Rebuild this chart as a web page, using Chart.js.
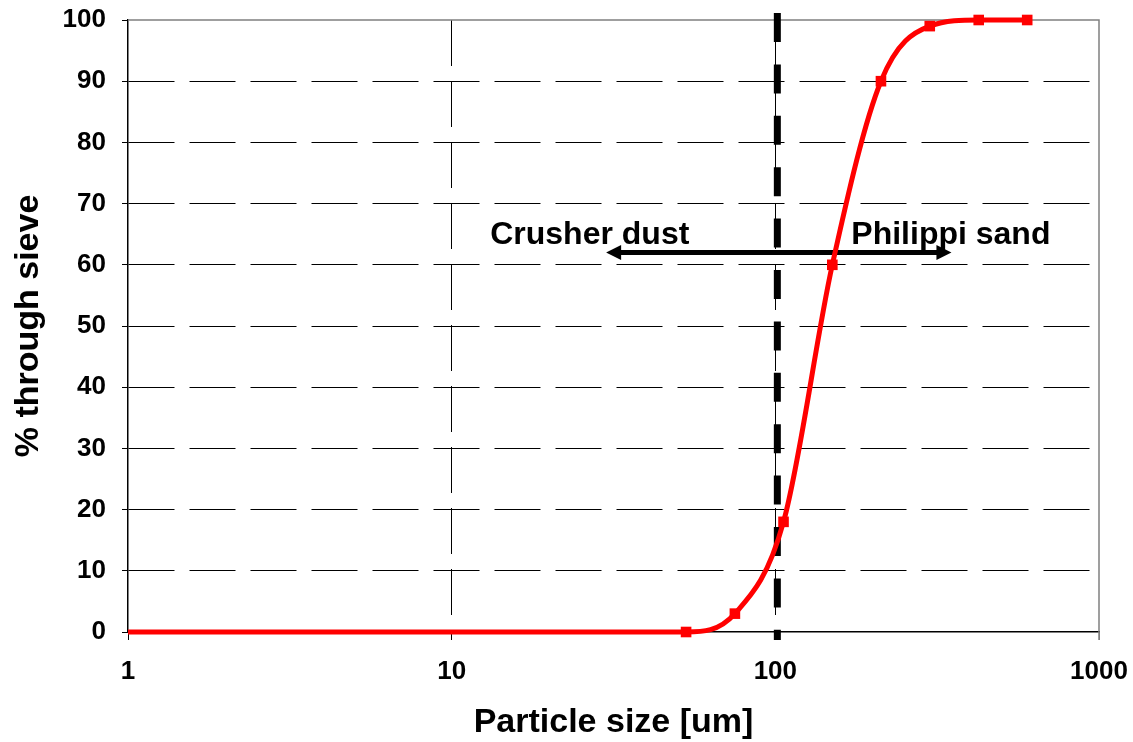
<!DOCTYPE html>
<html>
<head>
<meta charset="utf-8">
<script src="https://cdn.jsdelivr.net/npm/chart.js@4.4.0/dist/chart.umd.min.js"></script>
<style>
  html, body { margin: 0; padding: 0; background: #fff; }
  #wrap { width: 1133px; height: 742px; }
</style>
</head>
<body>
<div id="wrap"><canvas id="sieve-chart" width="1133" height="742"></canvas></div>
<script>
// Sieve sizes (um) and cumulative % passing
const sieveSizes = [1, 53, 75, 106, 150, 212, 300, 425, 600];
const percentPassing = [0, 0, 3, 18, 60, 90, 99, 100, 100];
const xTickValues = [1, 10, 100, 1000];

// Cut size between the two materials and the arrow marking the split
const cutSize = 100;
const arrowFrom = 30;
const arrowTo = 350;
const arrowLevel = 62;
const leftLabel = "Crusher dust";
const rightLabel = "Philippi sand";

const FONT = "'Liberation Sans', Arial, sans-serif";

// Grey frame, thick dashed cut line, double arrow and the two labels
const overlay = {
  id: "overlay",
  beforeDatasetsDraw(chart) {
    const { ctx, chartArea: a, scales: { x, y } } = chart;
    ctx.save();

    ctx.strokeStyle = "#808080";
    ctx.lineWidth = 1.5;
    ctx.beginPath();
    ctx.moveTo(a.left, a.top);
    ctx.lineTo(a.right, a.top);
    ctx.lineTo(a.right, a.bottom + 8);
    ctx.stroke();

    const cx = x.getPixelForValue(cutSize) + 2;
    ctx.strokeStyle = "#000";
    ctx.lineWidth = 7;
    ctx.setLineDash([29, 22.4]);
    ctx.beginPath();
    ctx.moveTo(cx, a.top - 7);
    ctx.lineTo(cx, a.bottom + 8);
    ctx.stroke();
    ctx.setLineDash([]);

    const ay = y.getPixelForValue(arrowLevel);
    const x1 = x.getPixelForValue(arrowFrom);
    const x2 = x.getPixelForValue(arrowTo);
    const head = 15;
    ctx.lineWidth = 5;
    ctx.beginPath();
    ctx.moveTo(x1 + head - 1, ay);
    ctx.lineTo(x2 - head + 1, ay);
    ctx.stroke();
    ctx.fillStyle = "#000";
    ctx.beginPath();
    ctx.moveTo(x1, ay);
    ctx.lineTo(x1 + head, ay - 7.5);
    ctx.lineTo(x1 + head, ay + 7.5);
    ctx.closePath();
    ctx.fill();
    ctx.beginPath();
    ctx.moveTo(x2, ay);
    ctx.lineTo(x2 - head, ay - 7.5);
    ctx.lineTo(x2 - head, ay + 7.5);
    ctx.closePath();
    ctx.fill();

    ctx.font = "bold 32px " + FONT;
    ctx.textBaseline = "alphabetic";
    ctx.textAlign = "right";
    ctx.fillText(leftLabel, cx - 88, ay - 9);
    ctx.textAlign = "left";
    ctx.fillText(rightLabel, cx + 74, ay - 9);

    ctx.restore();
  }
};

const ctx = document.getElementById("sieve-chart").getContext("2d");
new Chart(ctx, {
  type: "line",
  data: {
    datasets: [{
      data: sieveSizes.map((s, i) => ({ x: s, y: percentPassing[i] })),
      borderColor: "#ff0000",
      backgroundColor: "#ff0000",
      borderWidth: 5,
      cubicInterpolationMode: "monotone",
      pointStyle: "rect",
      pointRadius: sieveSizes.map(s => (s === 1 ? 0 : 7.5)),
      pointBorderWidth: 0,
      clip: false
    }]
  },
  options: {
    responsive: false,
    animation: false,
    layout: { padding: { left: 0, top: 20, right: 34, bottom: 0 } },
    plugins: { legend: { display: false }, tooltip: { enabled: false } },
    scales: {
      x: {
        type: "logarithmic",
        min: 1,
        max: 1000,
        afterBuildTicks: scale => { scale.ticks = xTickValues.map(v => ({ value: v })); },
        afterFit: scale => {
          scale.height = 110;
          scale.paddingLeft = 0;
          scale.paddingRight = 0;
        },
        ticks: {
          callback: v => String(v),
          color: "#000",
          font: { family: FONT, size: 26, weight: "bold" },
          padding: 16,
          maxRotation: 0,
          autoSkip: false
        },
        grid: {
          color: c => (c.tick && (c.tick.value === 10 || c.tick.value === 100) ? "#000" : "transparent"),
          tickColor: c => (c.tick && c.tick.value === 1000 ? "#808080" : "#000"),
          lineWidth: 1,
          tickLength: 8
        },
        border: { display: true, color: "#000", width: 1.5, dash: [46, 15] },
        title: {
          display: true,
          text: "Particle size [um]",
          color: "#000",
          font: { family: FONT, size: 34, weight: "bold", lineHeight: 1 },
          padding: { top: 0, bottom: 2 }
        }
      },
      y: {
        min: 0,
        max: 100,
        afterFit: scale => {
          scale.width = 128;
          scale.paddingTop = 0;
          scale.paddingBottom = 0;
        },
        ticks: {
          stepSize: 10,
          color: "#000",
          font: { family: FONT, size: 26, weight: "bold" },
          padding: 16
        },
        grid: {
          color: c => (c.tick && c.tick.value > 0 && c.tick.value < 100 ? "#000" : "transparent"),
          tickColor: "#000",
          lineWidth: 1,
          tickLength: 6
        },
        border: { display: true, color: "#000", width: 1.5, dash: [46, 15] },
        title: {
          display: true,
          text: "% through sieve",
          color: "#000",
          font: { family: FONT, size: 34, weight: "bold", lineHeight: 1 },
          padding: { top: 12, bottom: 0 }
        }
      }
    }
  },
  plugins: [overlay]
});
</script>
</body>
</html>
